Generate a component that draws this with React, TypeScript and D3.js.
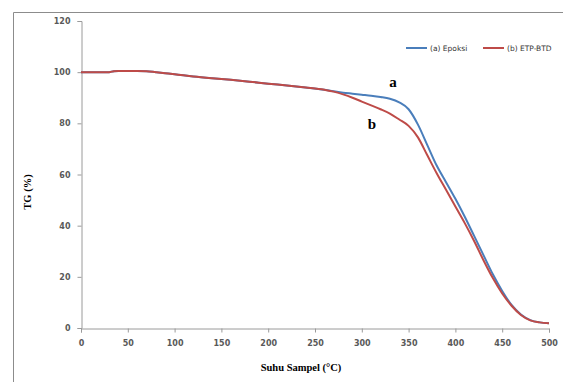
import React, { useEffect, useRef } from 'react';
import * as d3 from 'd3';

// Suhu sampel (°C)
const temps = [0, 10, 20, 30, 35, 40, 50, 60, 70, 80, 90, 100, 120, 140, 160, 180, 200, 220, 240, 260, 270, 280, 290, 300, 310, 320, 330, 340, 350, 360, 370, 380, 390, 400, 410, 420, 430, 440, 450, 460, 470, 480, 490, 500];

// (a) Epoksi
const epoksi = [100, 100, 100, 100, 100.4, 100.5, 100.5, 100.5, 100.4, 100, 99.6, 99.2, 98.3, 97.6, 97.0, 96.3, 95.5, 94.8, 94.0, 93.1, 92.5, 92.0, 91.6, 91.2, 90.8, 90.3, 89.6, 88.2, 85.5, 79.5, 71.5, 63.5, 57, 50.5, 43.5, 36, 28.5, 21, 14.5, 9, 5.3, 3.1, 2.2, 1.9];

// (b) ETP-BTD
const etpBtd = [100, 100, 100, 100, 100.4, 100.5, 100.5, 100.5, 100.4, 100, 99.6, 99.2, 98.3, 97.6, 97.0, 96.3, 95.5, 94.8, 94.0, 93.1, 92.4, 91.3, 90.0, 88.5, 87.0, 85.5, 83.8, 81.5, 79, 74.5, 67.5, 60.5, 54, 47.5, 41, 34, 26.5, 19.5, 13.5, 8.7, 5.1, 3, 2.2, 1.9];

const xTicks = [0, 50, 100, 150, 200, 250, 300, 350, 400, 450, 500];
const yTicks = [0, 20, 40, 60, 80, 100, 120];

const series = [
  { name: '(a) Epoksi', values: epoksi, color: '#4a7ebb' },
  { name: '(b) ETP-BTD', values: etpBtd, color: '#be4b48' },
];

export default function App() {
  const svgRef = useRef<SVGSVGElement>(null);

  useEffect(() => {
    if (!svgRef.current) return;
    d3.select(svgRef.current).selectAll('*').remove();

    const width = 563;
    const height = 382;
    const svg = d3.select(svgRef.current).attr('width', width).attr('height', height);

    // cadre de la zone du graphique
    svg.append('path')
      .attr('d', `M13.5,${height} V12.5 H${width}`)
      .attr('fill', 'none')
      .attr('stroke', '#8c8c8c')
      .attr('stroke-width', 1);

    const x = d3.scaleLinear().domain([0, 500]).range([81, 549]);
    const y = d3.scaleLinear().domain([0, 120]).range([328, 21]);

    const axisColor = '#9a9a9a';
    const tickFont = '"DejaVu Sans", Verdana, sans-serif';

    // axe Y
    const yAxis = svg.append('g')
      .attr('transform', 'translate(81.5,0)')
      .call(d3.axisLeft(y).tickValues(yTicks).tickSize(4).tickPadding(7));
    yAxis.select('.domain').attr('stroke', axisColor);
    yAxis.selectAll('.tick line').attr('stroke', axisColor);
    yAxis.selectAll('.tick text')
      .style('font-family', tickFont)
      .style('font-size', '8px')
      .style('font-weight', 'bold')
      .attr('fill', '#595959');

    // axe X
    const xAxis = svg.append('g')
      .attr('transform', 'translate(0,328.5)')
      .call(d3.axisBottom(x).tickValues(xTicks).tickSize(4).tickPadding(8));
    xAxis.select('.domain').attr('stroke', axisColor);
    xAxis.selectAll('.tick line').attr('stroke', axisColor);
    xAxis.selectAll('.tick text')
      .style('font-family', tickFont)
      .style('font-size', '8px')
      .style('font-weight', 'bold')
      .attr('fill', '#595959');

    // courbes
    const line = d3.line<number>()
      .x((_, i) => x(temps[i]))
      .y(d => y(d))
      .curve(d3.curveMonotoneX);

    series.forEach(s => {
      svg.append('path')
        .datum(s.values)
        .attr('fill', 'none')
        .attr('stroke', s.color)
        .attr('stroke-width', 2)
        .attr('stroke-linejoin', 'round')
        .attr('d', line);
    });

    // labels a / b
    const serif = '"Liberation Serif", "Times New Roman", serif';
    svg.append('text')
      .attr('x', 393).attr('y', 87)
      .attr('text-anchor', 'middle')
      .style('font-family', serif).style('font-size', '15px').style('font-weight', 'bold')
      .text('a');
    svg.append('text')
      .attr('x', 372).attr('y', 129)
      .attr('text-anchor', 'middle')
      .style('font-family', serif).style('font-size', '15px').style('font-weight', 'bold')
      .text('b');

    // titres des axes
    svg.append('text')
      .attr('transform', 'translate(31,192) rotate(-90)')
      .attr('text-anchor', 'middle')
      .style('font-family', serif).style('font-size', '10.5px').style('font-weight', 'bold')
      .text('TG (%)');
    svg.append('text')
      .attr('x', 301).attr('y', 371)
      .attr('text-anchor', 'middle')
      .style('font-family', serif).style('font-size', '10.5px').style('font-weight', 'bold')
      .text('Suhu Sampel (°C)');

    // légende
    const legendX = [406, 483];
    series.forEach((s, i) => {
      const lg = svg.append('g').attr('transform', `translate(${legendX[i]},48)`);
      lg.append('line')
        .attr('x1', 0).attr('x2', 21).attr('y1', 0).attr('y2', 0)
        .attr('stroke', s.color).attr('stroke-width', 2);
      lg.append('text')
        .attr('x', 24).attr('y', 3)
        .style('font-family', tickFont).style('font-size', '7.5px')
        .attr('fill', '#333')
        .text(s.name);
    });
  }, []);

  return (
    <div style={{ position: 'absolute', left: 0, top: 0, background: '#fff' }}>
      <svg ref={svgRef} style={{ display: 'block' }}></svg>
    </div>
  );
}
